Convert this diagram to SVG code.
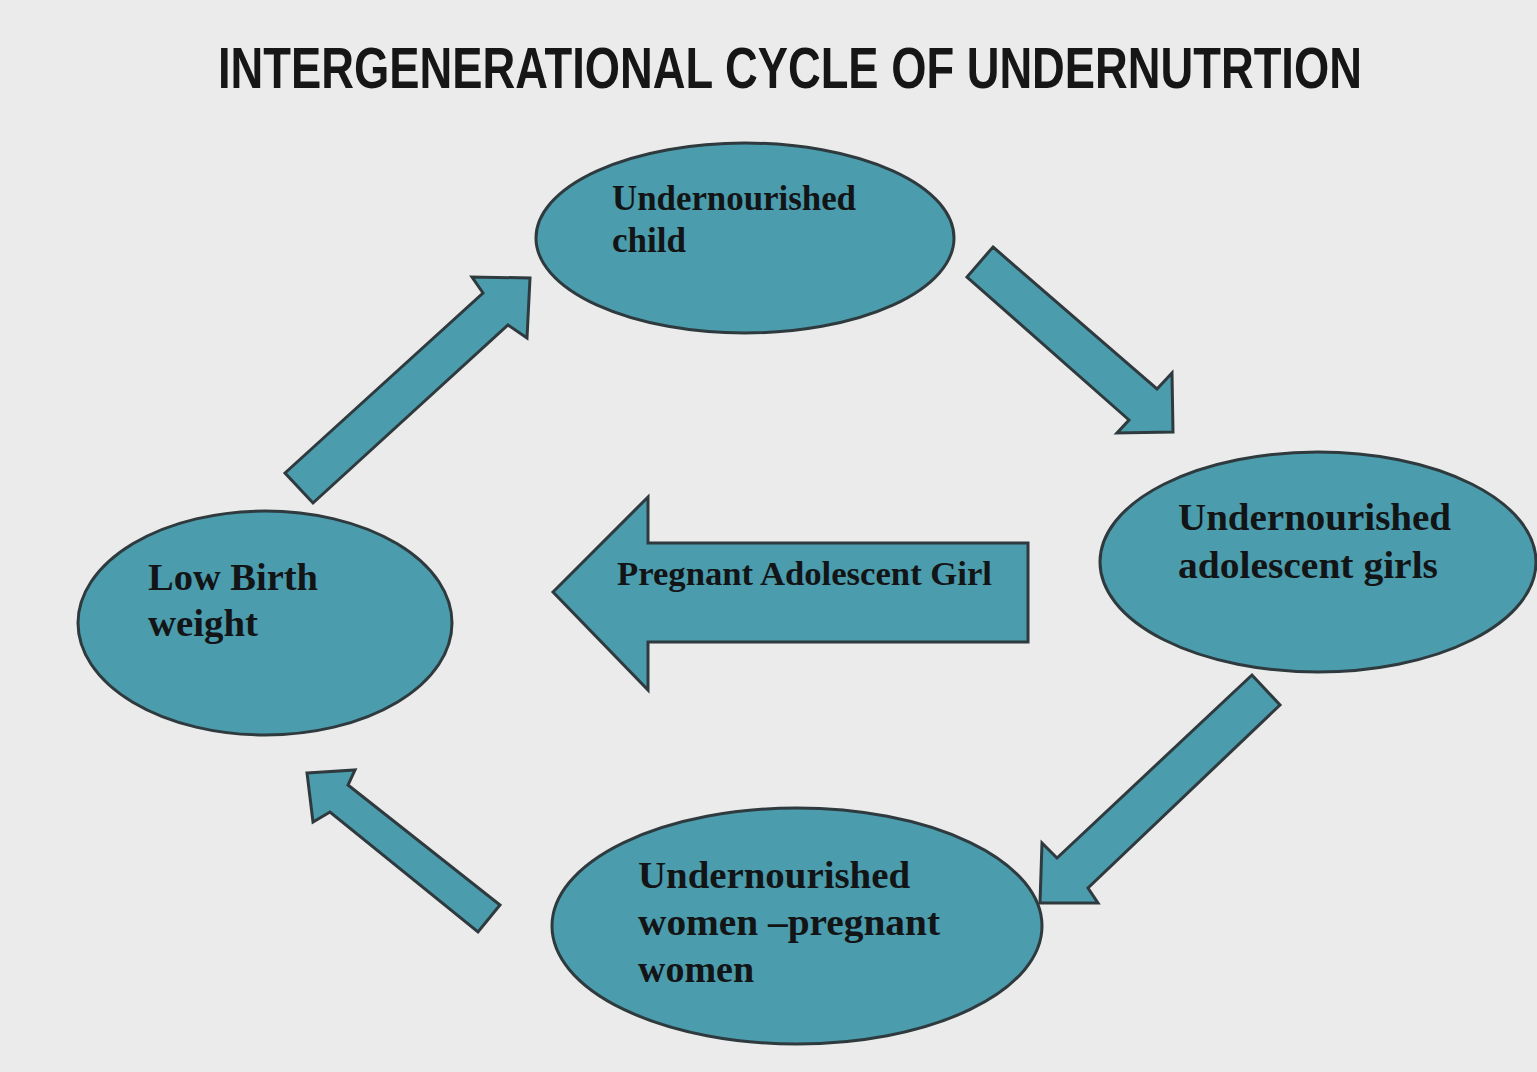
<svg xmlns="http://www.w3.org/2000/svg" width="1537" height="1072" viewBox="0 0 1537 1072">
<style>
.node{fill:#4b9cac;stroke:#2f3a3e;stroke-width:3}
.arrow{fill:#4b9cac;stroke:#2f3a3e;stroke-width:3;stroke-linejoin:miter}
.lbl{font-family:"Liberation Sans",Arial,sans-serif;font-family:"Liberation Serif","Times New Roman",serif;font-weight:bold;fill:#121416}
.title{font-family:"Liberation Sans",Arial,sans-serif;font-weight:bold;fill:#161616}
</style>
<rect width="1537" height="1072" fill="#ebebeb"/>
<text class="title" transform="scale(0.7922,1)" x="275.2" y="88" font-size="57" textLength="1444" lengthAdjust="spacingAndGlyphs">INTERGENERATIONAL CYCLE OF UNDERNUTRTION</text>
<g id="node-child">
<ellipse class="node" cx="745" cy="238" rx="209" ry="95"/>
<text class="lbl" font-size="35"><tspan x="612" y="210" textLength="244" lengthAdjust="spacingAndGlyphs">Undernourished</tspan><tspan x="612" y="252">child</tspan></text>
</g>
<g id="node-adolescent">
<ellipse class="node" cx="1318" cy="562" rx="218" ry="110"/>
<text class="lbl" font-size="38"><tspan x="1178" y="530" textLength="273" lengthAdjust="spacingAndGlyphs">Undernourished</tspan><tspan x="1178" y="578" textLength="260" lengthAdjust="spacingAndGlyphs">adolescent girls</tspan></text>
</g>
<g id="node-lbw">
<ellipse class="node" cx="265" cy="623" rx="187" ry="112"/>
<text class="lbl" font-size="38"><tspan x="148" y="590" textLength="170" lengthAdjust="spacingAndGlyphs">Low Birth</tspan><tspan x="148" y="636" textLength="110" lengthAdjust="spacingAndGlyphs">weight</tspan></text>
</g>
<g id="node-women">
<ellipse class="node" cx="797" cy="926" rx="245" ry="118"/>
<text class="lbl" font-size="38"><tspan x="638" y="888" textLength="272" lengthAdjust="spacingAndGlyphs">Undernourished</tspan><tspan x="638" y="935" textLength="302" lengthAdjust="spacingAndGlyphs">women –pregnant</tspan><tspan x="638" y="982">women</tspan></text>
</g>
<g id="connectors">
<polygon class="arrow" points="285,473 483,293 472,277 530,278 527,338 508,325 313,503"/>
<polygon class="arrow" points="993,247 1157,389 1172,373 1173,432 1117,433 1129,420 967,277"/>
<polygon class="arrow" points="1252,675 1057,858 1042,843 1040,903 1098,903 1088,888 1280,705"/>
<polygon class="arrow" points="307,773 355,770 348,785 500,905 478,932 330,812 313,822"/>
<g id="arrow-pregnant">
<polygon class="arrow" points="553,592 648,497 648,543 1028,543 1028,642 648,642 648,690"/>
<text class="lbl" x="617" y="585" font-size="34" textLength="375" lengthAdjust="spacingAndGlyphs">Pregnant Adolescent Girl</text>
</g>
</g>
</svg>
